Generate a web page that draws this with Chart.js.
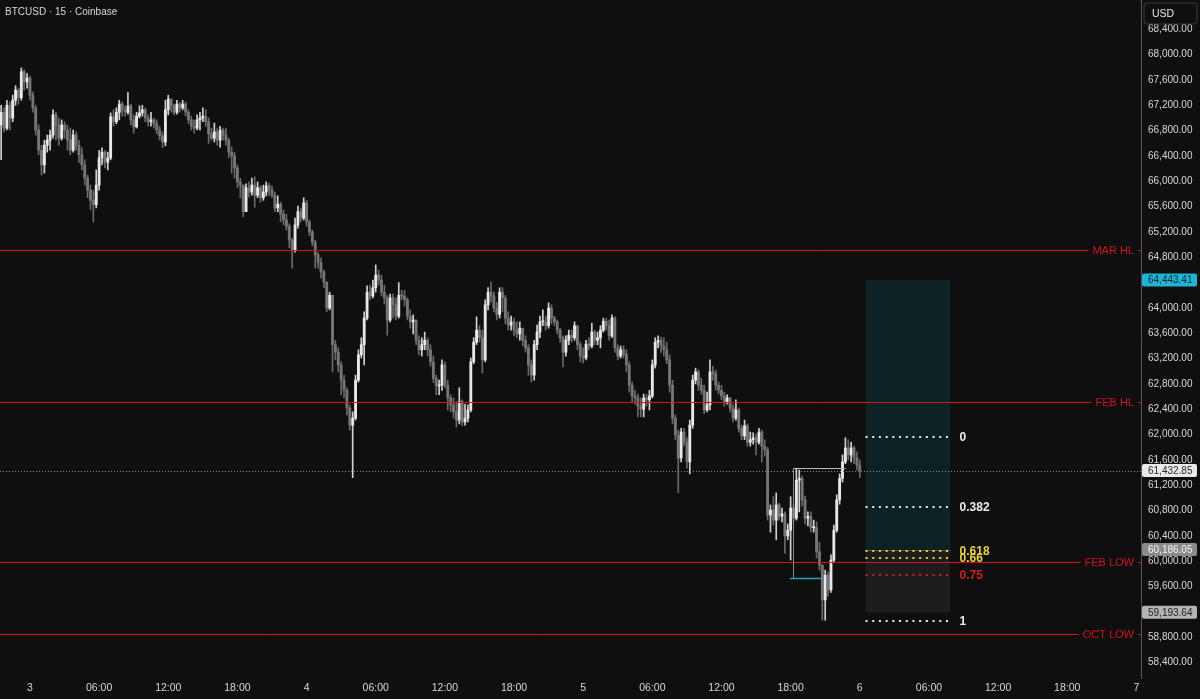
<!DOCTYPE html>
<html>
<head>
<meta charset="utf-8">
<script src="https://cdn.jsdelivr.net/npm/chart.js@4.4.1/dist/chart.umd.min.js"></script>
<style>
  html, body { margin: 0; padding: 0; background: #0f0f0f; }
  #wrap { width: 1200px; height: 699px; }
</style>
</head>
<body>
<div id="wrap"><canvas id="chart" width="1200" height="699"></canvas></div>
<script>
// BTCUSD 15m candles, Mar 2 21:30 -> Mar 6 00:00 (hours counted from Mar 3 00:00)
const firstCandleHour = -2.5;
const candleStepHours = 0.25;
const firstOpen = 66890;

const candleClose = [
  67090, 66840, 67200, 67000, 67280, 67440, 67320, 67730, 67570, 67630,
  67360, 67160, 66810, 66490, 66260, 66570, 66650, 66730, 67050, 66890,
  66680, 66890, 66810, 66650, 66490, 66730, 66570, 66420, 66260, 66050,
  65860, 65700, 65630, 65940, 66370, 66460, 66300, 66370, 67020, 66940,
  67090, 67220, 67130, 67090, 67190, 66970, 66860, 67030, 67080, 67130,
  67000, 66940, 66970, 66910, 66810, 66720, 66620, 67130, 67300, 67190,
  67090, 67220, 67160, 67220, 67090, 66970, 66870, 66840, 66970, 67000,
  67030, 66940, 66750, 66680, 66780, 66650, 66810, 66730, 66650, 66460,
  66400, 66210, 65990, 65940, 65520, 65900, 65830, 65940, 65780, 65900,
  65740, 65830, 65930, 65860, 65780, 65580, 65640, 65480, 65390, 65290,
  65070, 64920, 65310, 65520, 65420, 65660, 65360, 65200, 65040, 64840,
  64720, 64570, 64410, 64000, 64200, 63420, 63300, 63100, 62860, 62700,
  62420, 62150, 62260, 62860, 63260, 63420, 63840, 64250, 64190, 64320,
  64520, 64440, 64250, 64160, 63810, 64160, 64050, 63870, 64200, 64190,
  64130, 63870, 63780, 63810, 63490, 63340, 63420, 63490, 63340, 63150,
  62890, 62770, 62780, 63100, 62780, 62580, 62470, 62360, 62230, 62520,
  62200, 62260, 62390, 63150, 63460, 63650, 63530, 63180, 64050, 64250,
  64190, 64000, 63900, 64250, 64160, 63840, 63730, 63780, 63650, 63590,
  63680, 63490, 63370, 63100, 62940, 63420, 63620, 63780, 63780, 63720,
  64000, 63840, 63780, 63650, 63530, 63300, 63490, 63570, 63530, 63720,
  63420, 63240, 63210, 63430, 63400, 63620, 63490, 63530, 63650, 63790,
  63720, 63560, 63840, 63370, 63240, 63340, 63270, 63100, 62780, 62610,
  62580, 62450, 62400, 62580, 62550, 62610, 63100, 63460, 63490, 63400,
  63340, 63180, 62780, 62260, 61990, 61630, 62040, 61880, 61570, 62150,
  62860, 62990, 62780, 62700, 62390, 62470, 62990, 62960, 62780, 62700,
  62610, 62520, 62580, 62420, 62260, 62390, 62100, 61980, 62140, 61880,
  61920, 61950, 61880, 62040, 61820, 61760, 60730, 60810, 60650, 60890,
  60710, 60750, 60400, 60490, 60840, 60680, 61280, 61310, 60970, 60680,
  60710, 60530, 60530, 60150, 59940, 59390, 59780, 59550, 60020, 60490,
  60970, 61310, 61570, 61790, 61680, 61790, 61630, 61520, 61432.85
];

const candleHigh = [
  67200, 67160, 67280, 67250, 67360, 67510, 67470, 67790, 67760, 67700,
  67660, 67410, 67200, 66890, 66570, 66650, 66730, 66810, 67130, 67090,
  67000, 66970, 66940, 66890, 66840, 66810, 66780, 66650, 66530, 66340,
  66100, 65940, 65860, 66180, 66490, 66530, 66490, 66460, 67080, 67130,
  67160, 67280, 67250, 67190, 67400, 67220, 67050, 67090, 67190, 67200,
  67160, 67050, 67090, 67000, 66970, 66870, 66780, 67280, 67360, 67280,
  67220, 67280, 67250, 67280, 67250, 67130, 67030, 66970, 67050, 67090,
  67160, 67130, 67000, 66840, 66920, 66840, 66870, 66840, 66840, 66680,
  66540, 66460, 66260, 66050, 65940, 65960, 65990, 66050, 66070, 65990,
  65930, 65940, 65990, 65970, 65930, 65830, 65770, 65670, 65550, 65480,
  65330, 65100, 65420, 65610, 65580, 65740, 65700, 65390, 65230, 65070,
  64880, 64790, 64600, 64410, 64250, 63730, 63490, 63370, 63150, 62940,
  62740, 62470, 62360, 62940, 63340, 63530, 63940, 64350, 64360, 64440,
  64680, 64600, 64520, 64360, 64200, 64220, 64220, 64160, 64400, 64280,
  64280, 64160, 63970, 63890, 63810, 63560, 63530, 63620, 63530, 63420,
  63240, 62940, 62860, 63180, 63150, 62860, 62630, 62580, 62520, 62740,
  62550, 62480, 62470, 63210, 63530, 63860, 63720, 63650, 64130, 64320,
  64410, 64250, 64090, 64320, 64320, 64200, 63940, 63870, 63840, 63780,
  63780, 63680, 63560, 63420, 63180, 63490, 63730, 63870, 63970, 63870,
  64080, 64050, 63870, 63810, 63680, 63560, 63560, 63650, 63650, 63780,
  63720, 63460, 63370, 63490, 63530, 63760, 63650, 63620, 63720, 63840,
  63840, 63810, 63890, 63860, 63420, 63400, 63400, 63340, 63150, 62830,
  62700, 62640, 62580, 62640, 62630, 62700, 63180, 63530, 63560, 63540,
  63530, 63460, 63260, 62860, 62310, 62070, 62100, 62100, 61950, 62230,
  62940, 63050, 63020, 62890, 62780, 62670, 63180, 63080, 63020, 62830,
  62780, 62670, 62630, 62580, 62470, 62550, 62420, 62150, 62230, 62170,
  62040, 62030, 62010, 62100, 62070, 61920, 61800, 60890, 61020, 61080,
  60920, 60840, 60780, 60590, 61020, 60900, 61470, 61440, 61350, 61030,
  60780, 60780, 60650, 60620, 60300, 59920, 59860, 59830, 60100, 60570,
  61050, 61380, 61680, 61950, 61920, 61880, 61820, 61730, 61600
];

const candleLow = [
  66340, 66780, 66810, 66810, 66940, 67200, 67220, 67280, 67440, 67470,
  67280, 67090, 66730, 66420, 66100, 66130, 66460, 66490, 66680, 66650,
  66570, 66650, 66680, 66490, 66420, 66460, 66490, 66300, 66180, 65940,
  65740, 65550, 65360, 65580, 65860, 66260, 66210, 66180, 66340, 66870,
  66910, 66970, 67030, 67030, 67060, 66890, 66760, 66840, 67000, 67030,
  66940, 66870, 66870, 66840, 66750, 66650, 66530, 66560, 67050, 67090,
  67050, 67060, 67090, 67130, 67030, 66910, 66810, 66760, 66810, 66810,
  66940, 66870, 66600, 66650, 66620, 66570, 66540, 66650, 66570, 66370,
  66130, 66050, 65900, 65740, 65440, 65520, 65750, 65780, 65590, 65740,
  65670, 65700, 65770, 65770, 65740, 65520, 65520, 65360, 65310, 65230,
  64950, 64630, 64880, 65260, 65360, 65390, 65290, 65140, 64980, 64630,
  64630, 64470, 64320, 63940, 63970, 62990, 63180, 62990, 62630, 62580,
  62310, 62070, 61320, 62230, 62830, 63210, 63100, 63810, 64130, 64160,
  64250, 64360, 64190, 64060, 63570, 63780, 63840, 63810, 63840, 64130,
  64030, 63810, 63680, 63590, 63420, 63260, 63240, 63340, 63240, 63080,
  62820, 62630, 62630, 62700, 62740, 62390, 62360, 62260, 62120, 62170,
  62140, 62150, 62200, 62360, 63120, 63420, 63460, 62970, 63150, 63970,
  64090, 63940, 63810, 63840, 63940, 63750, 63650, 63650, 63560, 63530,
  63490, 63400, 63300, 62940, 62830, 62860, 63340, 63530, 63720, 63650,
  63680, 63750, 63720, 63590, 63460, 63070, 63240, 63420, 63460, 63490,
  63340, 63150, 63130, 63180, 63340, 63370, 63420, 63420, 63370, 63620,
  63650, 63490, 63530, 63300, 63180, 63210, 63210, 62990, 62670, 62520,
  62480, 62280, 62280, 62280, 62450, 62390, 62580, 63050, 63370, 63300,
  63240, 63120, 62670, 62170, 61920, 61080, 61570, 61820, 61470, 61380,
  62100, 62800, 62700, 62640, 62330, 62360, 62390, 62860, 62700, 62640,
  62550, 62450, 62480, 62360, 62200, 62230, 62040, 61920, 61920, 61820,
  61820, 61850, 61680, 61850, 61570, 61660, 60650, 60460, 60570, 60340,
  60650, 60620, 60130, 60340, 60020, 60620, 60650, 60780, 60870, 60590,
  60560, 60460, 60460, 60050, 59860, 59070, 59070, 59450, 59510, 59990,
  60460, 60900, 61250, 61540, 61600, 61570, 61540, 61440, 61320
];

// axes
const xTickHours = [0, 6, 12, 18, 24, 30, 36, 42, 48, 54, 60, 66, 72, 78, 84, 90, 96];
const xTickLabels = ['3', '06:00', '12:00', '18:00', '4', '06:00', '12:00', '18:00', '5', '06:00', '12:00', '18:00', '6', '06:00', '12:00', '18:00', '7'];
const yTickValues = [58400, 58800, 59200, 59600, 60000, 60400, 60800, 61200, 61600, 62000, 62400, 62800,
  63200, 63600, 64000, 64400, 64800, 65200, 65600, 66000, 66400, 66800, 67200, 67600, 68000, 68400];

// horizontal levels
const levelNames = ['MAR HL', 'FEB HL', 'FEB LOW', 'OCT LOW'];
const levelPrices = [64915, 62510, 59985, 58850];
const lastPrice = 61432.85;

// long position tool
const positionHours = [72.5, 79.85];
const targetPrice = 64443.41;
const entryPrice = 60186.05;
const stopPrice = 59193.64;

// fib retracement
const fibHours = [72.5, 79.7];
const fibHigh = 61960;
const fibLow = 59060;
const fibLevels = [0, 0.382, 0.618, 0.66, 0.75, 1];
const fibLabels = ['0', '0.382', '0.618', '0.66', '0.75', '1'];
const fibColors = ['#ececec', '#ececec', '#e8d62a', '#e8d62a', '#d31c26', '#ececec'];

// range box drawn on the chart
const boxHours = [66.2, 70.75];
const boxTop = 61480;
const boxBottom = 59730;
const boxBottomHours = [65.95, 68.75];

const bg = '#0f0f0f';
const upColor = '#e8e8e8';
const downColor = '#767676';
const redLine = '#d4111d';
const axisText = '#d8d8d8';
const fontFamily = "'Liberation Sans', Arial, sans-serif";

const candleOpen = candleClose.map((c, i) => i === 0 ? firstOpen : candleClose[i - 1]);
const candleHour = candleClose.map((c, i) => firstCandleHour + i * candleStepHours);
const isUp = candleClose.map((c, i) => c >= candleOpen[i]);

const bodies = candleHour.map((h, i) => ({ x: h, y: [candleOpen[i], candleClose[i]] }));
const wicks = candleHour.map((h, i) => ({
  x: h,
  y: [Math.min(candleLow[i], candleOpen[i], candleClose[i]), Math.max(candleHigh[i], candleOpen[i], candleClose[i])]
}));

function fmt(v) {
  return v.toLocaleString('en-US', { minimumFractionDigits: 2, maximumFractionDigits: 2 });
}

function roundRect(ctx, x, y, w, h, r) {
  ctx.beginPath();
  ctx.moveTo(x + r, y);
  ctx.lineTo(x + w - r, y);
  ctx.quadraticCurveTo(x + w, y, x + w, y + r);
  ctx.lineTo(x + w, y + h - r);
  ctx.quadraticCurveTo(x + w, y + h, x + w - r, y + h);
  ctx.lineTo(x + r, y + h);
  ctx.quadraticCurveTo(x, y + h, x, y + h - r);
  ctx.lineTo(x, y + r);
  ctx.quadraticCurveTo(x, y, x + r, y);
  ctx.closePath();
}

const drawings = {
  id: 'drawings',
  beforeDatasetsDraw(chart) {
    const { ctx, scales: { x, y } } = chart;
    ctx.save();
    const x0 = x.getPixelForValue(positionHours[0]);
    const x1 = x.getPixelForValue(positionHours[1]);
    const yT = y.getPixelForValue(targetPrice);
    const yE = y.getPixelForValue(entryPrice);
    const yS = y.getPixelForValue(stopPrice);
    ctx.fillStyle = '#0d2225';
    ctx.fillRect(x0, yT, x1 - x0, yE - yT);
    ctx.fillStyle = '#1d1d1d';
    ctx.fillRect(x0, yE, x1 - x0, yS - yE);
    ctx.strokeStyle = '#5a5a5a';
    ctx.lineWidth = 1;
    ctx.beginPath();
    ctx.moveTo(x0, Math.round(yE) + 0.5);
    ctx.lineTo(x1, Math.round(yE) + 0.5);
    ctx.stroke();
    ctx.restore();
  },
  afterDatasetsDraw(chart) {
    const { ctx, chartArea: a, scales: { x, y } } = chart;
    ctx.save();

    // last price dotted line
    const yL = Math.round(y.getPixelForValue(lastPrice)) + 0.5;
    ctx.strokeStyle = '#8c8c8c';
    ctx.lineWidth = 1;
    ctx.setLineDash([1, 2]);
    ctx.beginPath();
    ctx.moveTo(a.left, yL);
    ctx.lineTo(a.right, yL);
    ctx.stroke();
    ctx.setLineDash([]);

    // red levels with labels
    ctx.font = '11px ' + fontFamily;
    ctx.textBaseline = 'middle';
    ctx.textAlign = 'right';
    levelPrices.forEach((p, i) => {
      const yy = Math.round(y.getPixelForValue(p)) + 0.5;
      const tx = a.right - 7;
      const w = ctx.measureText(levelNames[i]).width;
      ctx.strokeStyle = redLine;
      ctx.beginPath();
      ctx.moveTo(a.left, yy);
      ctx.lineTo(tx - w - 4, yy);
      ctx.moveTo(a.right - 3, yy);
      ctx.lineTo(a.right, yy);
      ctx.stroke();
      ctx.fillStyle = redLine;
      ctx.fillText(levelNames[i], tx, yy);
    });

    // range box
    const bx0 = Math.round(x.getPixelForValue(boxHours[0])) + 0.5;
    const bx1 = Math.round(x.getPixelForValue(boxHours[1])) + 0.5;
    const by0 = Math.round(y.getPixelForValue(boxTop)) + 0.5;
    const by1 = Math.round(y.getPixelForValue(boxBottom)) + 0.5;
    ctx.strokeStyle = '#a9c4c8';
    ctx.beginPath();
    ctx.moveTo(bx0, by0);
    ctx.lineTo(bx1, by0);
    ctx.stroke();
    ctx.strokeStyle = '#8a8a8a';
    ctx.beginPath();
    ctx.moveTo(bx0, by0);
    ctx.lineTo(bx0, by1);
    ctx.stroke();
    ctx.strokeStyle = '#22a3b8';
    ctx.lineWidth = 1.5;
    ctx.beginPath();
    ctx.moveTo(x.getPixelForValue(boxBottomHours[0]), by1);
    ctx.lineTo(x.getPixelForValue(boxBottomHours[1]), by1);
    ctx.stroke();

    // fib retracement
    const fx0 = x.getPixelForValue(fibHours[0]);
    const fx1 = x.getPixelForValue(fibHours[1]);
    ctx.lineWidth = 2;
    ctx.setLineDash([2, 4.7]);
    ctx.font = 'bold 12px ' + fontFamily;
    ctx.textAlign = 'left';
    fibLevels.forEach((f, i) => {
      const price = fibHigh - f * (fibHigh - fibLow);
      const yy = Math.round(y.getPixelForValue(price));
      ctx.strokeStyle = fibColors[i];
      ctx.beginPath();
      ctx.moveTo(fx0, yy);
      ctx.lineTo(fx1, yy);
      ctx.stroke();
      ctx.fillStyle = fibColors[i];
      ctx.fillText(fibLabels[i], fx1 + 11, yy + 1);
    });
    ctx.setLineDash([]);
    ctx.restore();
  },
  afterDraw(chart) {
    const { ctx, chartArea: a, scales: { y } } = chart;
    ctx.save();
    // title
    ctx.font = '10px ' + fontFamily;
    ctx.fillStyle = axisText;
    ctx.textBaseline = 'middle';
    ctx.textAlign = 'left';
    ctx.fillText('BTCUSD \u00b7 15 \u00b7 Coinbase', 5, 12);

    // price tags on the axis
    const tags = [
      [targetPrice, '#1bb6d6', '#0b2530'],
      [lastPrice, '#e9e9e9', '#2a2a2a'],
      [entryPrice, '#8a8a8a', '#f4f4f4'],
      [stopPrice, '#b4b4b4', '#222222']
    ];
    ctx.font = '10px ' + fontFamily;
    tags.forEach(t => {
      const yy = y.getPixelForValue(t[0]);
      ctx.fillStyle = t[1];
      roundRect(ctx, a.right + 1, yy - 6.5, 55, 13, 2);
      ctx.fill();
      ctx.fillStyle = t[2];
      ctx.fillText(fmt(t[0]), a.right + 7, yy + 0.5);
    });

    // USD box
    ctx.fillStyle = bg;
    roundRect(ctx, a.right + 3, 3, 53, 21, 3);
    ctx.fill();
    ctx.strokeStyle = '#3c3c3c';
    ctx.lineWidth = 1;
    ctx.stroke();
    ctx.fillStyle = '#e8e8e8';
    ctx.font = '10.5px ' + fontFamily;
    ctx.fillText('USD', a.right + 11, 14);
    ctx.restore();
  }
};

Chart.defaults.font.family = fontFamily;

new Chart(document.getElementById('chart'), {
  type: 'bar',
  data: {
    datasets: [
      {
        label: 'body',
        data: bodies,
        grouped: false,
        barThickness: 2.2,
        minBarLength: 1,
        backgroundColor: isUp.map(u => u ? upColor : downColor),
        borderWidth: 0
      },
      {
        label: 'wick',
        data: wicks,
        grouped: false,
        barThickness: 1,
        backgroundColor: isUp.map(u => u ? '#d2d2d2' : '#6a6a6a'),
        borderWidth: 0
      }
    ]
  },
  options: {
    responsive: false,
    animation: false,
    devicePixelRatio: 1,
    layout: { padding: 0 },
    plugins: { legend: { display: false }, tooltip: { enabled: false } },
    scales: {
      x: {
        type: 'linear',
        min: -2.6,
        max: 96.4,
        offset: false,
        grid: { display: false, drawTicks: false },
        border: { display: false },
        afterBuildTicks: s => { s.ticks = xTickHours.map(v => ({ value: v })); },
        afterFit: s => { s.height = 21; s.paddingLeft = 0; s.paddingRight = 0; },
        ticks: {
          autoSkip: false,
          maxRotation: 0,
          padding: 4,
          color: axisText,
          font: { size: 10.5 },
          callback: (v, i) => xTickLabels[i]
        }
      },
      y: {
        position: 'right',
        min: 58157,
        max: 68863,
        grid: { display: false, drawTicks: false },
        border: { display: true, color: '#555555' },
        afterBuildTicks: s => { s.ticks = yTickValues.map(v => ({ value: v })); },
        afterFit: s => { s.width = 59; s.paddingTop = 0; s.paddingBottom = 0; },
        ticks: {
          autoSkip: false,
          padding: 7,
          color: axisText,
          font: { size: 10 },
          callback: v => fmt(v)
        }
      }
    }
  },
  plugins: [drawings]
});
</script>
</body>
</html>
